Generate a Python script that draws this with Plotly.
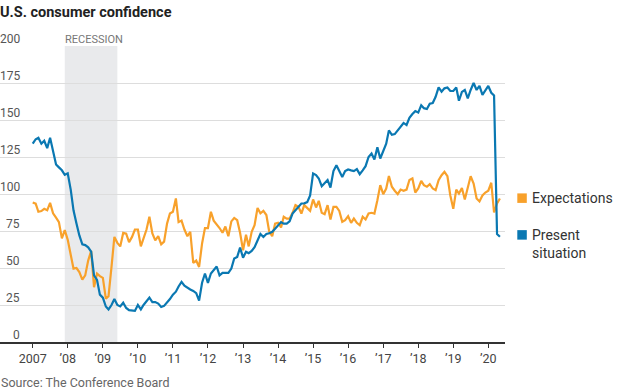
import plotly.graph_objects as go
import pandas as pd

# ---- data (monthly, Jan 2007 - May 2020), index 1985=100 ----
first_month = "2007-01-01"

present_situation = [
    134, 137, 138, 134, 136, 131, 138, 129, 120, 118, 116, 113,          # 2007
    114, 103, 89, 80, 72, 66, 65.5, 64, 61, 45, 42, 32,                  # 2008
    30, 24, 22, 25, 29, 25, 24, 26.5, 23, 21.5, 21.5, 21,                # 2009
    25, 22, 25, 28, 30, 27, 27, 26, 23.7, 24.4, 26.5, 29,                # 2010
    32, 34, 37.5, 40.6, 38, 36.5, 35.5, 34.5, 33, 28, 40, 46.3,          # 2011
    40, 46.3, 49, 51, 45, 46.7, 46.7, 46.7, 49.6, 56.4, 57.5, 63.8,      # 2012
    57, 61, 60, 61.5, 64, 69, 73, 71, 73, 73.5, 74.5, 76.5,              # 2013
    79, 81, 80, 80, 81.5, 86.8, 89, 91.5, 93.6, 93.7, 94.5, 99,          # 2014
    113.9, 112.8, 110.5, 105.3, 107.5, 109.5, 104.4, 115.5, 119.5, 115, 111.5, 115.5,  # 2015
    116.6, 116, 115.5, 116.8, 113.4, 116, 118.8, 125, 127.4, 123.3, 131.5, 124,        # 2016
    129.7, 134, 143, 140, 140.5, 143, 145.5, 148, 146.6, 151.5, 154, 156,              # 2017
    155, 160, 158, 157.4, 161, 161.5, 165.7, 172, 169.1, 171.4, 172, 169.6,            # 2018
    169.6, 172, 163, 169, 170.3, 164.6, 170.3, 175, 170.3, 173, 167, 170,              # 2019
    173, 168.4, 166.5, 73, 71.1,                                                        # 2020
]

expectations = [
    94.3, 93.5, 88, 88.5, 90, 89, 94, 87, 84, 81, 70, 75.6,              # 2007
    69, 58, 49.6, 50, 47.3, 42.2, 45, 55, 61.6, 37, 46.2, 44.5,          # 2008
    43.3, 29.3, 31, 50.7, 71, 67, 64.6, 73.7, 73.2, 67.5, 71, 76,        # 2009
    76, 64.6, 70, 76, 84.6, 73.3, 68.7, 71.5, 66, 67.8, 80, 86.8,        # 2010
    88, 97, 81, 82, 76, 71.5, 74.5, 53.4, 55, 50.7, 66.6, 77,            # 2011
    77, 88, 82, 79.6, 77, 73.8, 78, 71.5, 81.5, 83.8, 82.3, 73.8,        # 2012
    62, 72.5, 64.6, 74.5, 79, 90.6, 87, 88.6, 85.8, 74.5, 71.5, 80,      # 2013
    80.5, 77.4, 84.6, 83.4, 83.4, 87.3, 92.5, 91.3, 86.8, 92.5, 90.2, 88.6,   # 2014
    96.3, 90.9, 95.4, 87.3, 86.4, 92.5, 82.8, 91.3, 91.3, 88.6, 81.2, 82.3,   # 2015
    85, 80.5, 83.4, 80.5, 78.9, 84.6, 82.8, 86.8, 87.3, 86.8, 95.8, 106,      # 2016
    99.9, 103.7, 112.1, 104.9, 102.2, 99.9, 103, 102.2, 103, 109.5, 110.5, 101,  # 2017
    103.7, 108.9, 106, 104.9, 106.7, 103.7, 102.6, 109.4, 112.7, 115, 112, 99,   # 2018
    90, 103, 100.3, 104, 96.3, 105, 112, 107, 97, 95, 99, 101,                   # 2019
    102.2, 107.6, 87.5, 93.6, 97,                                                 # 2020
]

series_names = ["Expectations", "Present<br>situation"]

tick_years = list(range(2007, 2021))
tick_labels = ["2007"] + ["\u2019" + str(y)[2:] for y in range(2008, 2021)]

y_ticks = [0, 25, 50, 75, 100, 125, 150, 175, 200]
y_tick_labels = [str(v) for v in y_ticks]

recession = ("2007-12-01", "2009-06-01")
recession_label = "RECESSION"

title = "U.S. consumer confidence"
source = "Source: The Conference Board"

# ---- styling ----
ORANGE = "#f8a12b"
BLUE = "#0a78b2"
FONT = "Roboto"
PLOT_W = 505.0   # plot area width in px
PLOT_H = 295.7   # plot area height in px

dates = pd.date_range(first_month, periods=len(present_situation), freq="MS")

fig = go.Figure()
fig.add_trace(go.Scatter(x=dates, y=expectations, mode="lines",
                         line=dict(color=ORANGE, width=2.2), hoverinfo="skip"))
fig.add_trace(go.Scatter(x=dates, y=present_situation, mode="lines",
                         line=dict(color=BLUE, width=2.2), hoverinfo="skip"))

annotations = []
# y tick labels sitting above gridlines
for v, lab in zip(y_ticks, y_tick_labels):
    annotations.append(dict(x=20.5 / PLOT_W, xref="paper", xanchor="right",
                            y=v, yref="y", yanchor="bottom", text=lab,
                            showarrow=False, borderpad=0, yshift=-1,
                            font=dict(family=FONT, size=12, color="#555555")))

# recession label
annotations.append(dict(x=recession[0], xref="x", xanchor="left", xshift=-1,
                        y=200, yref="y", yanchor="bottom", text=recession_label,
                        showarrow=False, borderpad=0, yshift=-1,
                        font=dict(family=FONT, size=11, color="#777777")))

# legend labels at line ends
legend_y = [(341.7 - 198.0) / PLOT_H, (341.7 - 243.9) / PLOT_H]
sq_y = [(341.7 - 198.0) / PLOT_H, (341.7 - 234.7) / PLOT_H]
for name, ly in zip(series_names, legend_y):
    annotations.append(dict(x=531 / PLOT_W, xref="paper", xanchor="left",
                            y=ly, yref="paper", yanchor="middle", text=name,
                            align="left", showarrow=False, borderpad=0,
                            font=dict(family=FONT, size=14, color="#333333")))

# source
annotations.append(dict(x=0, xref="paper", xanchor="left",
                        y=(341.7 - 382.5) / PLOT_H, yref="paper", yanchor="middle",
                        text=source, showarrow=False, borderpad=0,
                        font=dict(family=FONT, size=12.5, color="#666666")))

shapes = [dict(type="rect", xref="x", yref="y", x0=recession[0], x1=recession[1],
               y0=0, y1=200, fillcolor="#e9eaec", line=dict(width=0), layer="below")]
half = 4.75 / PLOT_H
for col, cy in zip([ORANGE, BLUE], sq_y):
    shapes.append(dict(type="rect", xref="paper", yref="paper",
                       x0=517.3 / PLOT_W, x1=526.8 / PLOT_W, y0=cy - half, y1=cy + half,
                       fillcolor=col, line=dict(width=0)))

fig.update_layout(
    width=620, height=390,
    margin=dict(l=0, r=620 - PLOT_W, t=46, b=390 - 46 - PLOT_H),
    paper_bgcolor="white", plot_bgcolor="white",
    showlegend=False,
    font=dict(family=FONT, color="#333333"),
    title=dict(text="<b>" + title + "</b>", x=0, xref="container", xanchor="left",
               y=1 - 11.5 / 390, yref="container", yanchor="middle",
               font=dict(family=FONT, size=14.5, color="#222222")),
    xaxis=dict(range=["2006-01-25", "2020-06-23"],
               tickvals=[f"{y}-01-01" for y in tick_years], ticktext=tick_labels,
               showgrid=False, zeroline=False,
               showline=True, linecolor="#333333", linewidth=1.5,
               ticks="outside", ticklen=4, tickwidth=1, tickcolor="#333333",
               tickfont=dict(family=FONT, size=12.5, color="#444444")),
    yaxis=dict(range=[0, 200], tickvals=y_ticks[1:], showticklabels=False,
               showgrid=True, gridcolor="#dddddd", gridwidth=1,
               zeroline=False, showline=False, ticks=""),
    annotations=annotations,
    shapes=shapes,
)

fig.write_html(
    "out.html",
    config={"displayModeBar": False},
    post_script="document.body.style.margin='0';document.body.style.padding='0';"
                "document.body.style.overflow='hidden';",
)
